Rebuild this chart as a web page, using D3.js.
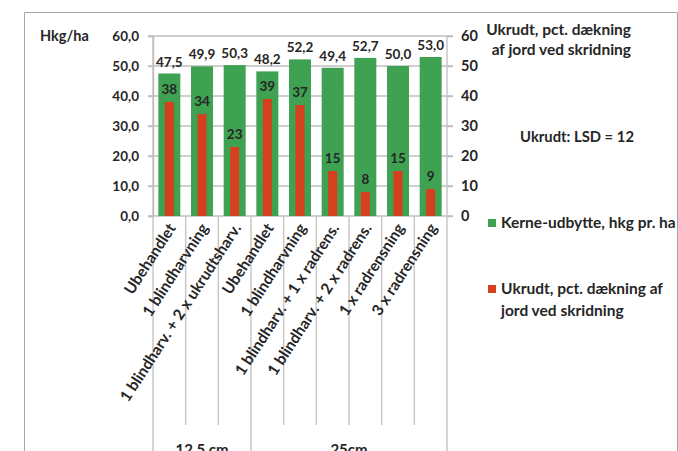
<!DOCTYPE html>
<html>
<head>
<meta charset="utf-8">
<script src="https://cdn.jsdelivr.net/npm/d3@7"></script>
<style>
  body { margin: 0; background: #fff; }
  text { font-family: Lato, "Open Sans", sans-serif; font-weight: bold; fill: #262626; }
</style>
</head>
<body>
<div id="chart"></div>
<script>
// data
var categories = ["Ubehandlet", "1 blindharvning", "1 blindharv. + 2 x ukrudtsharv.",
  "Ubehandlet", "1 blindharvning", "1 blindharv. + 1 x radrens.", "1 blindharv. + 2 x radrens.",
  "1 x radrensning", "3 x radrensning"];
var yieldValues = [47.5, 49.9, 50.3, 48.2, 52.2, 49.4, 52.7, 50.0, 53.0];
var weedValues = [38, 34, 23, 39, 37, 15, 8, 15, 9];
var groups = [{ label: "12.5 cm", from: 0, to: 3 }, { label: "25cm", from: 3, to: 9 }];
var leftTicks = [0, 10, 20, 30, 40, 50, 60];
var rightTicks = [0, 10, 20, 30, 40, 50, 60];

var width = 678, height = 451;
var plotLeft = 153, plotRight = 447, plotTop = 36, plotBottom = 216;
var green = "#3fa152", red = "#d5401f";

var svg = d3.select("#chart").append("svg")
  .attr("width", width)
  .attr("height", height);

// outer frame
svg.append("path")
  .attr("d", "M24.5," + height + "V12.5H677.5V" + height)
  .attr("fill", "none")
  .attr("stroke", "#a6a6a6")
  .attr("stroke-width", 1);

var x = d3.scaleBand()
  .domain(d3.range(categories.length))
  .range([plotLeft, plotRight])
  .padding(0);

var y = d3.scaleLinear().domain([0, 60]).range([plotBottom, plotTop]);
var y2 = d3.scaleLinear().domain([0, 60]).range([plotBottom, plotTop]);

// horizontal gridlines
svg.append("g")
  .selectAll("line")
  .data(leftTicks)
  .enter().append("line")
  .attr("x1", plotLeft - 5)
  .attr("x2", plotRight + 6)
  .attr("y1", d => y(d))
  .attr("y2", d => y(d))
  .attr("stroke", "#bfbfbf")
  .attr("stroke-width", 1.5);

// category separators below the axis
var seps = d3.range(categories.length + 1);
function sepX(d) { return d < categories.length ? x(d) : plotRight; }
svg.append("g")
  .selectAll("line")
  .data(seps)
  .enter().append("line")
  .attr("x1", sepX)
  .attr("x2", sepX)
  .attr("y1", d => (d === 0 || d === categories.length) ? plotTop : plotBottom)
  .attr("y2", d => groups.some(g => g.from === d || g.to === d) ? height : 425)
  .attr("stroke", "#c8c8c8")
  .attr("stroke-width", 1.5);

// green bars
svg.append("g")
  .selectAll("rect")
  .data(yieldValues)
  .enter().append("rect")
  .attr("x", (d, i) => x(i) + x.bandwidth() / 2 - 11)
  .attr("y", d => y(d))
  .attr("width", 22)
  .attr("height", d => plotBottom - y(d))
  .attr("fill", green);

// red bars (right axis)
svg.append("g")
  .selectAll("rect")
  .data(weedValues)
  .enter().append("rect")
  .attr("x", (d, i) => x(i) + x.bandwidth() / 2 - 4.5)
  .attr("y", d => y2(d))
  .attr("width", 9)
  .attr("height", d => plotBottom - y2(d))
  .attr("fill", red);

// value labels
svg.append("g")
  .selectAll("text")
  .data(yieldValues)
  .enter().append("text")
  .attr("x", (d, i) => x(i) + x.bandwidth() / 2)
  .attr("y", d => y(d) - 7)
  .attr("text-anchor", "middle")
  .style("font-size", "13.5px")
  .text(d => d.toFixed(1).replace(".", ","));

svg.append("g")
  .selectAll("text")
  .data(weedValues)
  .enter().append("text")
  .attr("x", (d, i) => x(i) + x.bandwidth() / 2)
  .attr("y", d => y2(d) - 8)
  .attr("text-anchor", "middle")
  .style("font-size", "13.5px")
  .text(d => d);

// left axis
var leftAxis = svg.append("g")
  .attr("transform", "translate(" + plotLeft + ",0)")
  .call(d3.axisLeft(y).tickValues(leftTicks).tickSize(5)
    .tickFormat(d => d.toFixed(1).replace(".", ",")));
leftAxis.select(".domain").attr("stroke", "#bfbfbf").attr("stroke-width", 1.5);
leftAxis.selectAll(".tick line").attr("stroke", "#bfbfbf").attr("stroke-width", 1.5);
leftAxis.selectAll(".tick text")
  .attr("x", -14)
  .style("font-size", "13.5px")
  .style("font-family", "Lato, sans-serif")
  .attr("fill", "#262626");

// right axis
var rightAxis = svg.append("g")
  .attr("transform", "translate(" + plotRight + ",0)")
  .call(d3.axisRight(y2).tickValues(rightTicks).tickSize(6));
rightAxis.select(".domain").remove();
rightAxis.selectAll(".tick line").attr("stroke", "#bfbfbf").attr("stroke-width", 1.5);
rightAxis.selectAll(".tick text")
  .attr("x", 14)
  .style("font-size", "14.5px")
  .style("font-family", "Lato, sans-serif")
  .attr("fill", "#262626");

// category labels
svg.append("g")
  .selectAll("text")
  .data(categories)
  .enter().append("text")
  .attr("transform", (d, i) => "translate(" + (x(i) + x.bandwidth() / 2 + 7) + "," + (plotBottom + 12) + ") rotate(-57)")
  .attr("text-anchor", "end")
  .style("font-size", "15.5px")
  .text(d => d);

// group labels
svg.append("g")
  .selectAll("text")
  .data(groups)
  .enter().append("text")
  .attr("x", d => (sepX(d.from) + sepX(d.to)) / 2)
  .attr("y", 455)
  .attr("text-anchor", "middle")
  .style("font-size", "15px")
  .text(d => d.label);

// axis titles
svg.append("text")
  .attr("x", 40).attr("y", 41)
  .style("font-size", "14.5px")
  .text("Hkg/ha");

svg.append("text")
  .attr("x", 631).attr("y", 35)
  .attr("text-anchor", "end")
  .style("font-size", "15.5px")
  .text("Ukrudt, pct. dækning");
svg.append("text")
  .attr("x", 631).attr("y", 55)
  .attr("text-anchor", "end")
  .style("font-size", "15.5px")
  .text("af jord ved skridning");

svg.append("text")
  .attr("x", 577).attr("y", 142)
  .attr("text-anchor", "middle")
  .style("font-size", "14.8px")
  .text("Ukrudt: LSD = 12");

// legend
var legend = [
  { color: green, lines: ["Kerne-udbytte, hkg pr. ha"], y: 228 },
  { color: red, lines: ["Ukrudt, pct. dækning af", "jord ved skridning"], y: 294 }
];
legend.forEach(function (l) {
  svg.append("rect")
    .attr("x", 488).attr("y", l.y - 9)
    .attr("width", 8).attr("height", 8)
    .attr("fill", l.color);
  l.lines.forEach(function (t, k) {
    svg.append("text")
      .attr("x", 501).attr("y", l.y + k * 22)
      .style("font-size", "15.5px")
      .text(t);
  });
});
</script>
</body>
</html>
